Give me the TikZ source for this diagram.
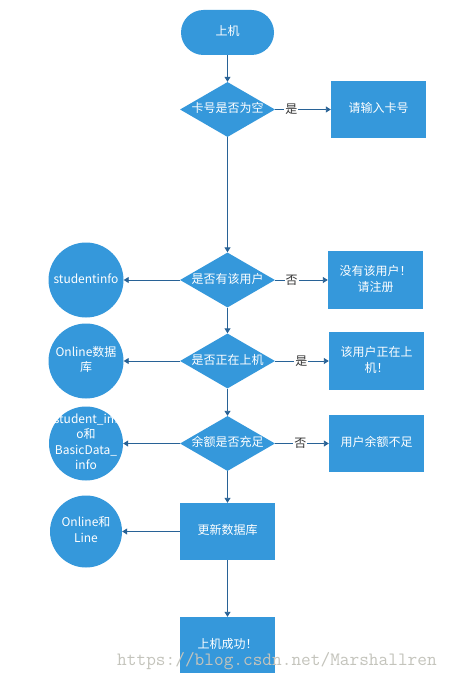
\documentclass[tikz,border=0pt]{standalone}
\usepackage{fontspec}
\setmainfont{Noto Sans CJK SC}
\usetikzlibrary{shapes.geometric,arrows.meta}
\definecolor{fillblue}{RGB}{53,152,219}
\definecolor{lineblue}{RGB}{40,98,150}
\definecolor{wmgray}{RGB}{196,196,188}
\newcommand\zb[1]{\makebox[0pt]{\vbox to 0pt{\vss\hbox{\begin{tabular}{@{}c@{}}#1\end{tabular}}\vss}}}
\tikzset{
  base/.style={fill=fillblue, draw=none, text=white, inner sep=0pt, font=\fontsize{12}{16}\selectfont},
  term/.style={base, rectangle, rounded corners=22.5pt, minimum width=93pt, minimum height=45pt},
  dec/.style={base, diamond, aspect=1.727, minimum width=95pt, minimum height=55pt},
  proc/.style={base, rectangle, minimum width=95pt, minimum height=57pt},
  db/.style={base, circle, minimum size=75pt, font=\fontsize{12}{15.5}\selectfont},
  conn/.style={draw=lineblue, line width=0.9pt, -{Triangle[width=6pt,length=5pt]}},
  lab/.style={fill=white, text=black!80, inner sep=1pt, font=\fontsize{12}{14}\selectfont},
}
\begin{document}
\begin{tikzpicture}[x=1pt,y=-1pt]
\useasboundingbox[fill=white] (0,0) rectangle (453,682);
\node[term] (start) at (227.5,32.5) {\zb{上机}};
\node[dec] (d1) at (227.5,109.5) {\zb{卡号是否为空}};
\node[proc, minimum height=56pt] (b1) at (378.5,109.5) {\zb{请输入卡号}};
\node[dec] (d2) at (227.5,280) {\zb{是否有该用户}};
\node[proc, minimum height=58pt] (b2) at (375.5,280) {\zb{没有该用户！\\请注册}};
\node[db] (c1) at (86,280) {\zb{studentinfo}};
\node[dec] (d3) at (227.5,361) {\zb{是否正在上机}};
\node[proc, minimum height=58pt] (b3) at (376.5,361) {\zb{该用户正在上\\机！}};
\node[db] (c2) at (86,361) {\zb{Online数据\\库}};
\node[dec] (d4) at (227.5,443.5) {\zb{余额是否充足}};
\node[proc] (b4) at (376.5,443.5) {\zb{用户余额不足}};
\node[db, minimum size=74pt] (c3) at (86,443.5) {\zb{student\_inf\\o和\\BasicData\_\\info}};
\node[proc] (u) at (227.5,531.5) {\zb{更新数据库}};
\node[db, minimum size=72pt] (c4) at (86,531.5) {\zb{Online和\\Line}};
\node[proc, minimum height=56pt] (s) at (227.5,645) {\zb{上机成功！}};
\draw[conn] (start) -- (d1);
\draw[conn] (d1.east) -- node[lab, pos=0.29] {是} (b1.west);
\draw[conn] (d1) -- (d2);
\draw[conn] (d2.west) -- (c1.east);
\draw[conn] (d2.east) -- node[lab, pos=0.31] {否} (b2.west);
\draw[conn] (d2) -- (d3);
\draw[conn] (d3.west) -- (c2.east);
\draw[conn] (d3.east) -- node[lab, pos=0.49] {是} (b3.west);
\draw[conn] (d3) -- (d4);
\draw[conn] (d4.west) -- (c3.east);
\draw[conn] (d4.east) -- node[lab, pos=0.47] {否} (b4.west);
\draw[conn] (d4) -- (u);
\draw[conn] (u.west) -- (c4.east);
\draw[conn] (u) -- (s);
\node[text=wmgray, font=\ttfamily\fontsize{18.8}{20}\selectfont, inner sep=0pt] (wm) at (277,661) {https://blog.csdn.net/Marshallren};
\end{tikzpicture}
\end{document}
